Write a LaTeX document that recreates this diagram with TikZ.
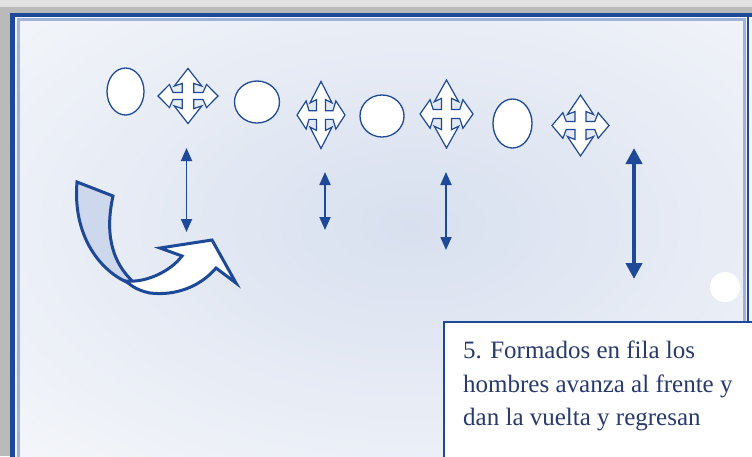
\documentclass[tikz,border=0pt]{standalone}
\usepackage{fontspec}
\setmainfont{Liberation Serif}
\usetikzlibrary{shapes.geometric,arrows.meta}
\definecolor{fblue}{RGB}{30,72,152}
\definecolor{lblue}{RGB}{160,178,215}
\definecolor{panelc}{RGB}{244,246,250}
\definecolor{paneld}{RGB}{216,224,239}
\definecolor{ribbon}{RGB}{205,216,236}
\definecolor{txtc}{RGB}{40,58,110}
\definecolor{grayA}{RGB}{186,186,186}
\definecolor{grayB}{RGB}{226,226,226}
\newcommand\mvarrow[3]{%
  \begin{scope}[shift={#1}, xscale=#2, yscale=#3]
  \draw[crossline]
   (0,1) -- (0.46,0.36) -- (0.19,0.46) -- (0.19,0.13) -- (0.5,0.13) -- (0.62,0.42) -- (1,0)
   -- (0.62,-0.42) -- (0.5,-0.13) -- (0.19,-0.13) -- (0.19,-0.46) -- (0.46,-0.36) -- (0,-1)
   -- (-0.46,-0.36) -- (-0.19,-0.46) -- (-0.19,-0.13) -- (-0.5,-0.13) -- (-0.62,-0.42) -- (-1,0)
   -- (-0.62,0.42) -- (-0.5,0.13) -- (-0.19,0.13) -- (-0.19,0.46) -- (-0.46,0.36) -- cycle;
  \end{scope}}
\begin{document}
\begin{tikzpicture}[x=1pt,y=-1pt,
  oval/.style={ellipse, draw=fblue, line width=1.3pt, fill=white, inner sep=0pt},
  crossline/.style={draw=fblue, line width=1.2pt, fill=white, line join=miter},
  thinarrow/.style={draw=fblue, line width=1.8pt, {Triangle[length=13pt,width=11pt]}-{Triangle[length=13pt,width=11pt]}},
  thickarrow/.style={draw=fblue, line width=4pt, {Triangle[length=16pt,width=16pt]}-{Triangle[length=16pt,width=16pt]}},
  ribbonline/.style={draw=fblue, line width=3pt, line join=miter}]
\useasboundingbox (0,0) rectangle (752,456);
% outer frame
\fill[grayA] (0,0) rectangle (752,456);
\fill[grayB] (0,0) rectangle (752,7);
\fill[panelc] (12,15) rectangle (752,456);
\begin{scope}
  \clip (15,18) rectangle (746,456);
  \shade[inner color=paneld, outer color=panelc] (410,225) ellipse (560 and 330);
\end{scope}
\draw[lblue, line width=3pt] (18.5,460) -- (18.5,19.5) -- (744.5,19.5) -- (744.5,460);
\draw[fblue, line width=4.5pt] (12.5,460) -- (12.5,15) -- (752,15);
\draw[fblue, line width=2pt] (747.5,14) -- (747.5,460);
% white dot
\fill[white] (725,287) circle (15);
% ovals
\node[oval, minimum width=37pt, minimum height=47pt] (o1) at (125.5,91.5) {};
\node[oval, minimum width=45pt, minimum height=42pt] (o2) at (257,102) {};
\node[oval, minimum width=44pt, minimum height=42pt] (o3) at (382,116) {};
\node[oval, minimum width=39pt, minimum height=49pt] (o4) at (512.5,123.5) {};
% four-way arrows
\mvarrow{(188,96)}{30}{27.5}
\mvarrow{(321,115)}{24}{33.5}
\mvarrow{(446.5,114)}{26.5}{34}
\mvarrow{(580.5,125.5)}{28.5}{30.5}
% double arrows
\coordinate (a1t) at (186.5,148);
\coordinate (a1b) at (186.5,232);
\coordinate (a2t) at (325,172);
\coordinate (a2b) at (325,230);
\coordinate (a3t) at (446,172);
\coordinate (a3b) at (446,250);
\coordinate (a4t) at (634,148);
\coordinate (a4b) at (634,279);
\draw[thinarrow] (a1t) -- (a1b);
\draw[thinarrow] (a2t) -- (a2b);
\draw[thinarrow] (a3t) -- (a3b);
\draw[thickarrow] (a4t) -- (a4b);
% curved U-turn arrow
\draw[ribbonline, fill=ribbon] (77,182) -- (113,196)
   .. controls (106,228) and (108,262) .. (138,286)
   .. controls (105,278) and (72,240) .. (77,182) -- cycle;
\draw[ribbonline, fill=white] (126,281)
   .. controls (145,283) and (170,272) .. (182,256)
   -- (160,248) -- (212,240) -- (236,283) -- (216,268)
   .. controls (200,287) and (175,296) .. (150,293)
   .. controls (140,291) and (132,287) .. (126,281) -- cycle;
% text box
\draw[fblue, line width=2pt, fill=white] (444,322) rectangle (780,480);
\node[txtc, align=left, anchor=north west, inner sep=0pt,
      font=\fontsize{25}{33.5}\selectfont] (t) at (463,341)
  {5. Formados en fila los\\hombres avanza al frente y\\dan la vuelta y regresan};
\end{tikzpicture}
\end{document}
